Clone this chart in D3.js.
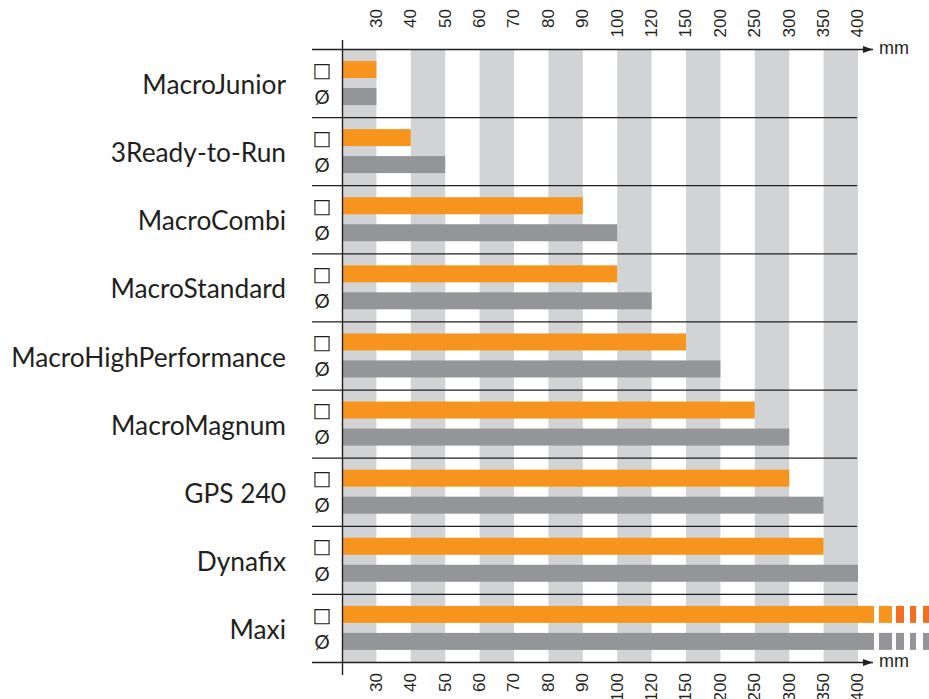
<!DOCTYPE html>
<html>
<head>
<meta charset="utf-8">
<script src="https://cdn.jsdelivr.net/npm/d3@7"></script>
<style>
  html, body { margin: 0; padding: 0; background: #fff; }
  svg { display: block; }
</style>
</head>
<body>
<svg id="chart" width="929" height="699"></svg>
<script>
// ---- data ----
const categories = ["MacroJunior", "3Ready-to-Run", "MacroCombi", "MacroStandard", "MacroHighPerformance", "MacroMagnum", "GPS 240", "Dynafix", "Maxi"];
const squareValues = [30, 40, 90, 100, 150, 250, 300, 350, 400];
const roundValues  = [30, 50, 100, 120, 200, 300, 350, 400, 400];
const overflow     = [false, false, false, false, false, false, false, false, true];
const tickValues   = [30, 40, 50, 60, 70, 80, 90, 100, 120, 150, 200, 250, 300, 350, 400];
const seriesSymbols = ["□", "Ø"];
const unitLabel = "mm";

// ---- layout ----
const x0 = 342, x1 = 858, yTop = 49, yBot = 662, lineStart = 312;
const ORANGE = "#F7941D", ORANGE2 = "#F26F21", GRAY = "#939598", STRIPE = "#D1D3D4", INK = "#231F20";

const svg = d3.select("#chart");

const xBand = d3.scaleBand().domain(tickValues).range([x0, x1]).paddingInner(0).paddingOuter(0);
const bw = xBand.bandwidth();
const xEnd = v => xBand(v) + bw;
const xp = d3.scalePoint().domain(tickValues).range([x0 + bw, x1]);

const y = d3.scaleBand().domain(categories).range([yTop, yBot]).padding(0);
const rowH = y.bandwidth();

// stripes
svg.append("g").selectAll("rect").data(tickValues.filter((d, i) => i % 2 === 0)).join("rect")
  .attr("x", d => xBand(d)).attr("width", bw)
  .attr("y", yTop).attr("height", yBot - yTop)
  .attr("fill", STRIPE);

// row separators
svg.append("g").selectAll("line").data(categories.slice(1)).join("line")
  .attr("x1", lineStart).attr("x2", x1 - 1)
  .attr("y1", d => y(d) + 0.5).attr("y2", d => y(d) + 0.5)
  .attr("stroke", INK).attr("stroke-width", 1.2);

// bars
const barH = 17;
const rows = svg.append("g").selectAll("g").data(categories).join("g")
  .attr("transform", d => `translate(0,${y(d)})`);

const series = [
  { values: squareValues, color: ORANGE, alt: ORANGE2, off: 12 },
  { values: roundValues, color: GRAY, alt: GRAY, off: 39 }
];

series.forEach((s, si) => {
  rows.append("rect")
    .attr("x", x0)
    .attr("y", s.off)
    .attr("height", barH)
    .attr("width", (d, i) => (overflow[i] ? xEnd(s.values[i]) + 16 : xEnd(s.values[i])) - x0)
    .attr("fill", s.color);
  // break marks for overflowing bars
  const segs = [[21, 34, s.color], [38, 46, s.alt], [52, 58, s.alt], [65, 71, s.alt]];
  rows.filter((d, i) => overflow[i]).each(function(d) {
    const i = categories.indexOf(d);
    const e = xEnd(s.values[i]);
    d3.select(this).selectAll(null).data(segs).join("rect")
      .attr("x", g => e + g[0]).attr("width", g => g[1] - g[0])
      .attr("y", s.off).attr("height", barH).attr("fill", g => g[2]);
  });
  // symbols
  rows.append("text")
    .attr("x", 322)
    .attr("y", s.off + barH / 2 + (si === 0 ? 0 : 0.5))
    .attr("dy", "0.36em")
    .attr("text-anchor", "middle")
    .attr("font-family", si === 0 ? "DejaVu Sans" : "Lato")
    .attr("font-size", si === 0 ? 20 : 19)
    .attr("fill", INK)
    .text(seriesSymbols[si]);
});

// category labels
svg.append("g").selectAll("text").data(categories).join("text")
  .attr("x", 286)
  .attr("y", d => y(d) + rowH / 2 + 11)
  .attr("text-anchor", "end")
  .attr("font-family", "Lato")
  .attr("font-size", 26.3)
  .attr("fill", INK)
  .text(d => d);

// axes
svg.append("defs").append("marker")
  .attr("id", "arrow").attr("viewBox", "0 0 10 7").attr("refX", 10).attr("refY", 3.5)
  .attr("markerWidth", 10).attr("markerHeight", 7).attr("markerUnits", "userSpaceOnUse").attr("orient", "auto")
  .append("path").attr("d", "M0,0 L10,3.5 L0,7 Z").attr("fill", INK);

[yTop, yBot].forEach(yy => {
  svg.append("line")
    .attr("x1", lineStart).attr("x2", 873)
    .attr("y1", yy + 0.5).attr("y2", yy + 0.5)
    .attr("stroke", INK).attr("stroke-width", 1.3)
    .attr("marker-end", "url(#arrow)");
  svg.append("text")
    .attr("x", 879).attr("y", yy + 5)
    .attr("font-family", "Liberation Sans, Arial").attr("font-size", 18)
    .attr("fill", INK).text(unitLabel);
});

// vertical axis
svg.append("line")
  .attr("x1", x0 + 0.5).attr("x2", x0 + 0.5).attr("y1", 40).attr("y2", 675)
  .attr("stroke", INK).attr("stroke-width", 1.4);

const topAxis = svg.append("g").attr("transform", `translate(0,${yTop})`)
  .call(d3.axisTop(xp).tickSize(0).tickPadding(0));
const botAxis = svg.append("g").attr("transform", `translate(0,${yBot})`)
  .call(d3.axisBottom(xp).tickSize(0).tickPadding(0));
[topAxis, botAxis].forEach((ax, k) => {
  ax.select(".domain").remove();
  ax.selectAll("text")
    .attr("transform", "rotate(-90)")
    .attr("x", k === 0 ? 40 : -11)
    .attr("y", -1)
    .attr("dy", "0.35em")
    .attr("text-anchor", "end")
    .attr("font-family", "Liberation Sans, Arial")
    .attr("font-size", 17)
    .attr("fill", INK);
});
</script>
</body>
</html>
